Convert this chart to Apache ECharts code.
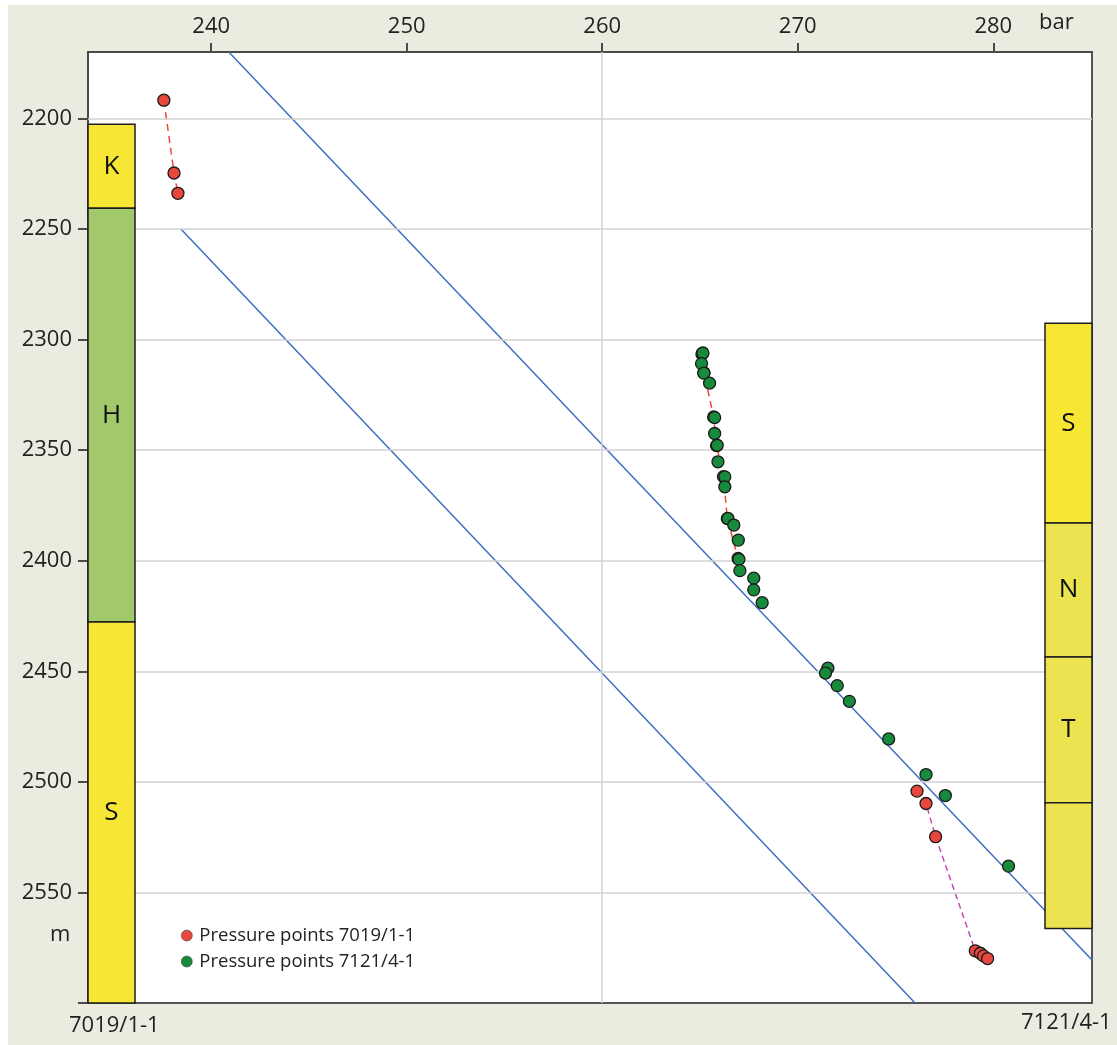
<!DOCTYPE html>
<html>
<head>
<meta charset="utf-8">
<script src="https://cdn.jsdelivr.net/npm/echarts@6/dist/echarts.min.js"></script>
<style>
html, body { margin: 0; padding: 0; background: #fff; }
#chart { position: absolute; left: 8px; top: 5px; width: 1109px; height: 1040px; background: #ecebe0; }
</style>
</head>
<body>
<div id="chart"></div>
<script>
// axis ticks (bar on top, depth m on the left)
const xTicks = [240, 250, 260, 270, 280];
const yTicks = [2200, 2250, 2300, 2350, 2400, 2450, 2500, 2550];
const yTickMarks = [2200, 2250, 2300, 2350, 2400, 2450, 2500, 2550, 2600];
const xGridLines = [260];

// pressure points [bar, m]
const red7019Top = [[237.58, 2191.8], [238.1, 2224.7], [238.3, 2233.9]];
const red7019Mid = [[265.1, 2306.5], [265.2, 2315], [265.7, 2335], [265.85, 2348], [266.2, 2362], [266.4, 2381], [266.95, 2399]];
const red7019Low = [[276.1, 2504.2], [276.56, 2509.8], [277.05, 2524.8], [279.08, 2576.4], [279.34, 2577.5], [279.5, 2578.7], [279.71, 2579.9]];
const green7121 = [
  [265.15, 2306.1], [265.08, 2310.9], [265.2, 2315.2], [265.49, 2319.7], [265.75, 2335.3],
  [265.75, 2342.5], [265.88, 2347.8], [265.92, 2355.3], [266.27, 2362.1], [266.27, 2366.6],
  [266.43, 2380.9], [266.73, 2383.9], [266.96, 2390.7], [266.99, 2399.4], [267.04, 2404.5],
  [267.75, 2407.9], [267.75, 2413.2], [268.18, 2419.0], [271.54, 2448.6], [271.42, 2450.8],
  [272.02, 2456.5], [272.64, 2463.6], [274.65, 2480.6], [276.56, 2496.7], [277.55, 2506.2],
  [280.78, 2538.1]
];

// pressure gradient lines
const gradUpper = [[240.9, 2170], [285.05, 2580.6]];
const gradLower = [[238.45, 2250], [276.0, 2600]];

// formation columns
const leftUnits = ['K', 'H', 'S'];
const leftTops = [2202.7, 2240.7, 2427.7];
const leftBases = [2240.7, 2427.7, 2600];
const rightUnits = ['S', 'N', 'T', ''];
const rightTops = [2292.6, 2383.0, 2443.5, 2509.4];
const rightBases = [2383.0, 2443.5, 2509.4, 2566.3];

const FONT = '"Open Sans", "Noto Sans", sans-serif';
const leftUnitColors = ['#f8e634', '#a1c96b', '#f8e634'];
const rightUnitColors = ['#f8e634', '#ebe34f', '#ebe34f', '#ebe34f'];

function columnSeries(units, tops, bases, colors, side) {
  return {
    type: 'custom',
    silent: true,
    z: 5,
    dimensions: ['top', 'base', 'idx'],
    encode: { y: ['top', 'base'] },
    data: units.map((u, i) => [tops[i], bases[i], i]),
    renderItem: function (params, api) {
      const i = api.value(2);
      const cs = params.coordSys;
      const w = 47;
      const x = side === 'left' ? cs.x : cs.x + cs.width - w;
      const y0 = api.coord([260, api.value(0)])[1];
      const y1 = api.coord([260, api.value(1)])[1];
      return {
        type: 'group',
        children: [
          { type: 'rect', shape: { x: x, y: y0, width: w, height: y1 - y0 },
            style: { fill: colors[i], stroke: '#1e1e1e', lineWidth: 1.5 } },
          { type: 'text', style: { text: units[i], x: x + w / 2, y: (y0 + y1) / 2,
            align: 'center', verticalAlign: 'middle', fontSize: 26, fontFamily: FONT, fill: '#111' } }
        ]
      };
    }
  };
}

const chart = echarts.init(document.getElementById('chart'));
chart.setOption({
  animation: false,
  backgroundColor: '#ecebe0',
  grid: { left: 80, top: 47, right: 25, bottom: 42, show: true, backgroundColor: '#fff', borderColor: '#555', borderWidth: 2 },
  xAxis: {
    type: 'value', position: 'top', min: 233.7, max: 285.05,
    axisLine: { show: true, lineStyle: { color: '#4a4a4a', width: 2 } },
    axisTick: { show: true, customValues: xTicks, length: 9, lineStyle: { color: '#4a4a4a', width: 2 } },
    axisLabel: { customValues: xTicks, fontSize: 22, color: '#222', margin: 14, fontFamily: FONT,
      formatter: v => String(v) },
    splitLine: { show: false }
  },
  yAxis: {
    type: 'value', inverse: true, min: 2170, max: 2600,
    axisLine: { show: true, lineStyle: { color: '#4a4a4a', width: 2 } },
    axisTick: { show: true, customValues: yTickMarks, length: 10, lineStyle: { color: '#4a4a4a', width: 2 } },
    axisLabel: { customValues: yTicks, fontSize: 22, color: '#222', margin: 16, fontFamily: FONT,
      formatter: v => String(v) },
    splitLine: { show: false }
  },
  legend: {
    orient: 'vertical', left: 168, top: 916, itemGap: 7, icon: 'circle', itemWidth: 11, itemHeight: 11,
    data: ['Pressure points 7019/1-1', 'Pressure points 7121/4-1'],
    itemStyle: { borderWidth: 0.6, borderColor: '#444' },
    textStyle: { fontSize: 18.5, color: '#222', fontFamily: FONT, padding: [0, 0, 0, 2] }
  },
  graphic: [
    { type: 'text', left: 1031, top: 7, style: { text: 'bar', fontSize: 22, fill: '#222', fontFamily: FONT } },
    { type: 'text', left: 42, top: 919, style: { text: 'm', fontSize: 22, fill: '#222', fontFamily: FONT } },
    { type: 'text', left: 61, top: 1010, style: { text: '7019/1-1', fontSize: 22, fill: '#222', fontFamily: FONT } },
    { type: 'text', left: 1013, top: 1007, style: { text: '7121/4-1', fontSize: 22, fill: '#222', fontFamily: FONT } }
  ],
  series: [
    {
      type: 'line', data: [], silent: true, z: 1,
      markLine: {
        silent: true, symbol: 'none', label: { show: false },
        lineStyle: { color: '#d2d2d2', type: 'solid', width: 1.5 },
        data: xGridLines.map(v => ({ xAxis: v })).concat(yTicks.map(v => ({ yAxis: v })))
      }
    },
    { type: 'line', data: gradUpper, symbol: 'none', silent: true, z: 3, lineStyle: { color: '#3e6ec2', width: 1.5 } },
    { type: 'line', data: gradLower, symbol: 'none', silent: true, z: 3, lineStyle: { color: '#3e6ec2', width: 1.5 } },
    columnSeries(leftUnits, leftTops, leftBases, leftUnitColors, 'left'),
    columnSeries(rightUnits, rightTops, rightBases, rightUnitColors, 'right'),
    { type: 'line', data: red7019Top, symbol: 'none', silent: true, z: 4, lineStyle: { color: '#e8473d', width: 1.5, type: [7, 5] } },
    { type: 'line', data: red7019Mid, symbol: 'none', silent: true, z: 4, lineStyle: { color: '#e8473d', width: 1.5, type: [7, 5] } },
    { type: 'line', data: red7019Low, symbol: 'none', silent: true, z: 4, lineStyle: { color: '#c24bb4', width: 1.5, type: [6, 4] } },
    {
      name: 'Pressure points 7019/1-1', type: 'scatter', data: red7019Top.concat(red7019Mid, red7019Low),
      symbolSize: 12, z: 6, itemStyle: { color: '#e8473d', borderColor: '#1a1a1a', borderWidth: 1.3, opacity: 1 }
    },
    {
      name: 'Pressure points 7121/4-1', type: 'scatter', data: green7121,
      symbolSize: 12, z: 7, itemStyle: { color: '#178a3c', borderColor: '#1a1a1a', borderWidth: 1.3, opacity: 1 }
    }
  ]
});
</script>
</body>
</html>
